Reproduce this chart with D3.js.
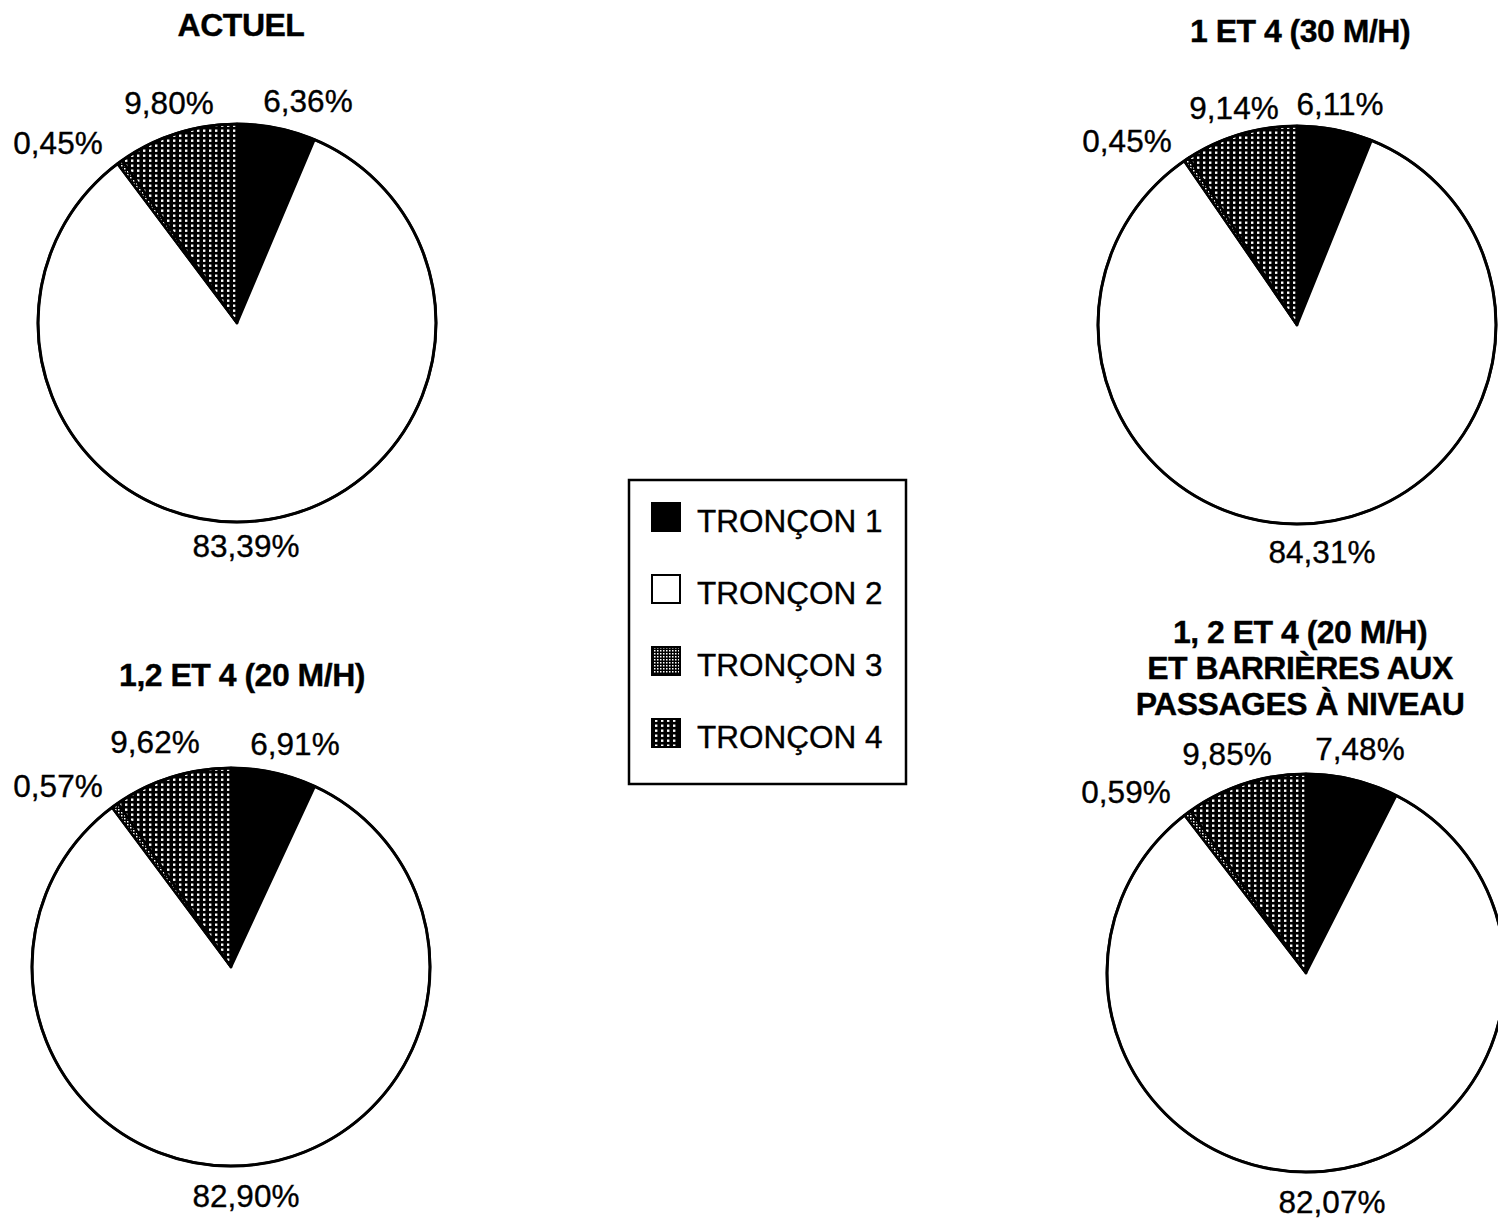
<!DOCTYPE html>
<html>
<head>
<meta charset="utf-8">
<script src="https://cdn.jsdelivr.net/npm/d3@7"></script>
<style>
  html, body { margin: 0; padding: 0; background: #fff; }
  svg { display: block; }
  text { font-family: "Liberation Sans", Arial, Helvetica, sans-serif; fill: #000; stroke: #000; stroke-width: 0.35px; }
</style>
</head>
<body>
<svg id="chart" width="1498" height="1220"></svg>
<script>
// ---------- DATA ----------
const categories = ["TRONÇON 1", "TRONÇON 2", "TRONÇON 3", "TRONÇON 4"];
const scenarioTitles = [
  ["ACTUEL"],
  ["1 ET 4 (30 M/H)"],
  ["1,2 ET 4 (20 M/H)"],
  ["1, 2 ET 4 (20 M/H)", "ET BARRIÈRES AUX", "PASSAGES À NIVEAU"]
];
const valuesActuel = [6.36, 83.39, 0.45, 9.80];
const values30 = [6.11, 84.31, 0.45, 9.14];
const values20 = [6.91, 82.90, 0.57, 9.62];
const values20Barrieres = [7.48, 82.07, 0.59, 9.85];
const scenarioValues = [valuesActuel, values30, values20, values20Barrieres];

// ---------- LAYOUT ----------
const pieRadius = 199;
const pieCenters = [[237, 323], [1297, 325], [231, 967], [1306, 973]];
const titleAnchors = [[241, 36], [1300, 42], [242, 686], [1300, 643]];
const titleLineHeight = 36;
// label offsets (x centre, baseline) relative to pie centre, per slice
const labelOffsets = [
  [[71, -211], [9, 234], [-179, -169], [-68, -209]],
  [[43, -210], [25, 238], [-170, -173], [-63, -206]],
  [[64, -212], [15, 240], [-173, -170], [-76, -214]],
  [[54, -213], [26, 240], [-180, -170], [-79, -208]]
];

const svg = d3.select("#chart");
const defs = svg.append("defs");

// Pattern for TRONÇON 4 : black with white dot columns
const p4 = defs.append("pattern").attr("id", "pat4")
  .attr("patternUnits", "userSpaceOnUse").attr("width", 6).attr("height", 5);
p4.append("rect").attr("width", 6).attr("height", 5).attr("fill", "#000");
p4.append("rect").attr("x", 2).attr("y", 1.5).attr("width", 2.4).attr("height", 2.4).attr("fill", "#fff");

// Pattern for TRONÇON 3 : finer grey texture
const p3 = defs.append("pattern").attr("id", "pat3")
  .attr("patternUnits", "userSpaceOnUse").attr("width", 3).attr("height", 3);
p3.append("rect").attr("width", 3).attr("height", 3).attr("fill", "#000");
p3.append("rect").attr("x", 1).attr("y", 1).attr("width", 1.5).attr("height", 1.5).attr("fill", "#fff");

const fills = d3.scaleOrdinal()
  .domain(categories)
  .range(["#000", "#fff", "url(#pat3)", "url(#pat4)"]);

const pie = d3.pie().sort(null).value(d => d.value).startAngle(0).endAngle(2 * Math.PI);
const arc = d3.arc().innerRadius(0).outerRadius(pieRadius);
const fmt = v => d3.format(".2f")(v).replace(".", ",") + "%";

scenarioValues.forEach((vals, i) => {
  const data = categories.map((c, k) => ({ cat: c, value: vals[k] }));
  const [cx, cy] = pieCenters[i];
  const g = svg.append("g").attr("transform", `translate(${cx},${cy})`);

  g.selectAll("path.slice")
    .data(pie(data))
    .join("path")
    .attr("class", "slice")
    .attr("d", arc)
    .attr("fill", d => fills(d.data.cat))
    .attr("stroke", "#000")
    .attr("stroke-width", 2.5)
    .attr("stroke-linejoin", "round");

  g.append("circle").attr("r", pieRadius)
    .attr("fill", "none").attr("stroke", "#000").attr("stroke-width", 3);

  g.selectAll("text.lbl")
    .data(data)
    .join("text")
    .attr("class", "lbl")
    .attr("x", (d, k) => labelOffsets[i][k][0])
    .attr("y", (d, k) => labelOffsets[i][k][1])
    .attr("text-anchor", "middle")
    .attr("font-size", 31.5)
    .text(d => fmt(d.value));

  const [tx, ty] = titleAnchors[i];
  svg.append("text")
    .attr("x", tx).attr("y", ty)
    .attr("text-anchor", "middle")
    .attr("font-size", 32)
    .attr("font-weight", "bold")
    .attr("letter-spacing", -0.5)
    .selectAll("tspan")
    .data(scenarioTitles[i])
    .join("tspan")
    .attr("x", tx)
    .attr("dy", (d, k) => k === 0 ? 0 : titleLineHeight)
    .text(d => d);
});

// ---------- LEGEND ----------
const legend = svg.append("g").attr("transform", "translate(629,480)");
legend.append("rect").attr("width", 277).attr("height", 304)
  .attr("fill", "#fff").attr("stroke", "#000").attr("stroke-width", 2.5);
const legendY = d3.scalePoint().domain(categories).range([52, 268]);
const items = legend.selectAll("g.item").data(categories).join("g")
  .attr("class", "item")
  .attr("transform", d => `translate(0,${legendY(d)})`);
items.append("rect")
  .attr("x", 23).attr("y", -29).attr("width", 28).attr("height", 28)
  .attr("fill", d => fills(d))
  .attr("stroke", "#000").attr("stroke-width", 2);
items.append("text")
  .attr("x", 68).attr("y", 0)
  .attr("font-size", 31.5)
  .text(d => d);
</script>
</body>
</html>
